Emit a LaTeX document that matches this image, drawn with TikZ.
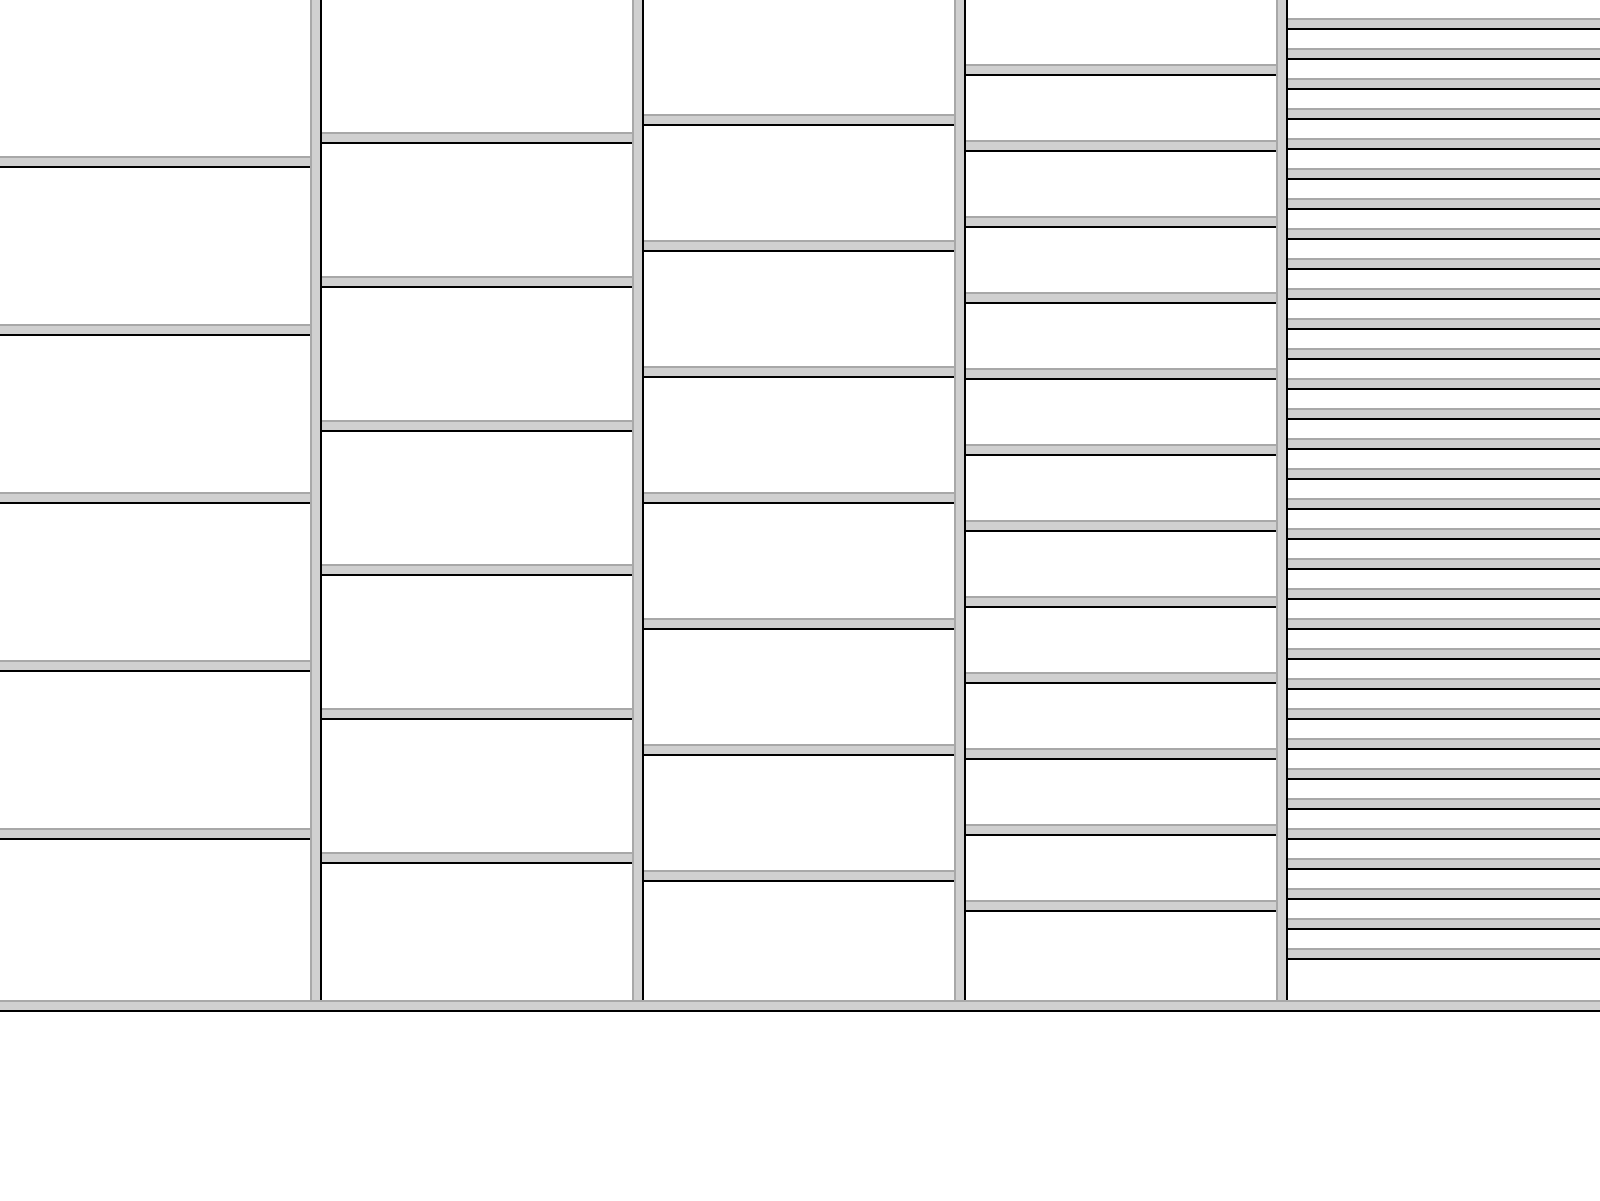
\documentclass[tikz,border=0pt]{standalone}
\definecolor{barfill}{HTML}{D0D0D0}
\definecolor{baredge}{HTML}{A8A8A8}
\newcommand\hsplitbar[3]{%
  \fill[barfill] (#1,#3) rectangle (#2,#3+12);
  \fill[baredge] (#1,#3) rectangle (#2,#3+2);
  \fill[black] (#1,#3+10) rectangle (#2,#3+12);}
\newcommand\vsplitbar[3]{%
  \fill[barfill] (#1,#2) rectangle (#1+12,#3);
  \fill[baredge] (#1,#2) rectangle (#1+2,#3);
  \fill[black] (#1+10,#2) rectangle (#1+12,#3);}
\begin{document}
\begin{tikzpicture}[x=1pt,y=-1pt]
\useasboundingbox[fill=white] (0,0) rectangle (1600,1200);
% column 1
\foreach \k in {0,...,4} {\hsplitbar{0}{310}{156+168*\k}}
% column 2
\foreach \k in {0,...,5} {\hsplitbar{322}{632}{132+144*\k}}
% column 3
\foreach \k in {0,...,6} {\hsplitbar{644}{954}{114+126*\k}}
% column 4
\foreach \k in {0,...,11} {\hsplitbar{966}{1276}{64+76*\k}}
% column 5
\foreach \k in {0,...,31} {\hsplitbar{1288}{1600}{18+30*\k}}
% vertical splitters
\foreach \x in {310,632,954,1276} {\vsplitbar{\x}{0}{1000}}
% bottom splitter
\hsplitbar{0}{1600}{1000}
\end{tikzpicture}
\end{document}
